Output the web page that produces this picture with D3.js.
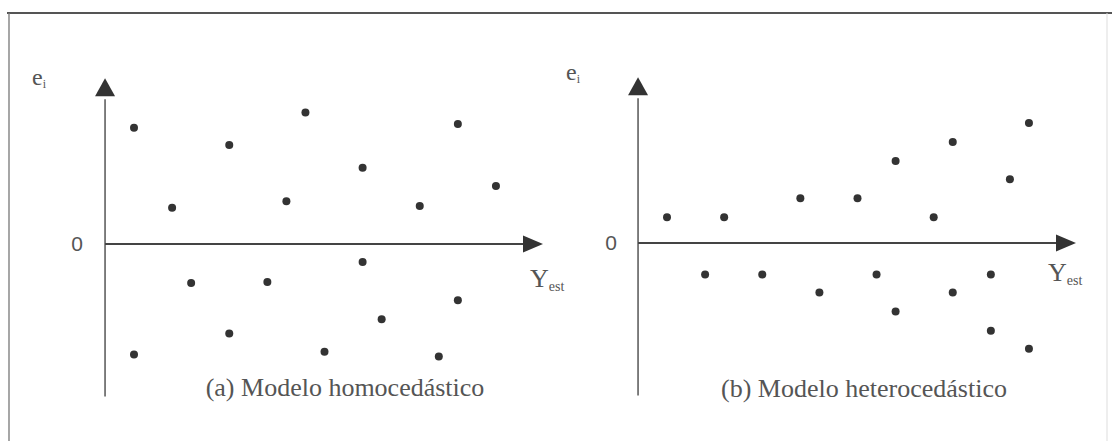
<!DOCTYPE html>
<html>
<head>
<meta charset="utf-8">
<script src="https://cdn.jsdelivr.net/npm/d3@7"></script>
<style>
  html, body { margin: 0; padding: 0; background: #fff; }
  svg { display: block; }
</style>
</head>
<body>
<svg id="chart" width="1112" height="441"></svg>
<script>
// Residuals e_i against fitted values (grid positions 0..19 along Y_est)
const homoX  = [0, 2, 5, 9, 8, 12, 15, 17, 19, 3, 7, 5, 0, 12, 13, 10, 16, 17];
const homoE  = [6.1, 1.9, 5.2, 6.9, 2.25, 4.0, 2.0, 6.3, 3.05, -2.05, -2.0, -4.7, -5.8, -0.95, -3.95, -5.65, -5.9, -2.95];
const heteroX = [0, 3, 7, 10, 12, 14, 15, 18, 19, 2, 5, 8, 11, 12, 15, 17, 17, 19];
const heteroE = [1.35, 1.35, 2.35, 2.35, 4.3, 1.35, 5.3, 3.35, 6.3, -1.65, -1.65, -2.6, -1.65, -3.6, -2.6, -1.65, -4.6, -5.55];
const captions = ["(a) Modelo homocedástico", "(b) Modelo heterocedástico"];
const yLabel = "e";
const yLabelSub = "i";
const xLabel = "Y";
const xLabelSub = "est";
const zeroLabel = "0";

const svg = d3.select("#chart");
const ink = "#333";
const unit = 19.05;

// outer frame
svg.append("line").attr("x1", 7).attr("x2", 1112).attr("y1", 13).attr("y2", 13)
  .attr("stroke", "#555").attr("stroke-width", 2);
svg.append("line").attr("x1", 9).attr("x2", 9).attr("y1", 13).attr("y2", 441)
  .attr("stroke", "#777").attr("stroke-width", 1.3);
svg.append("line").attr("x1", 1107).attr("x2", 1107).attr("y1", 13).attr("y2", 441)
  .attr("stroke", "#ddd").attr("stroke-width", 1);

const panels = [
  { xs: homoX, es: homoE, caption: captions[0], x0: 134, zero: 244, capX: 345, capY: 396,
    eX: 32, eY: 85, zX: 77, yLabX: 530, yLabY: 287 },
  { xs: heteroX, es: heteroE, caption: captions[1], x0: 667, zero: 243, capX: 864, capY: 397,
    eX: 566, eY: 80, zX: 611, yLabX: 1048, yLabY: 281 }
];

panels.forEach(p => {
  const x = d3.scaleLinear().domain([0, 19]).range([p.x0, p.x0 + 19 * unit]);
  const y = d3.scaleLinear().domain([-1, 1]).range([p.zero + unit, p.zero - unit]);
  const g = svg.append("g");

  const xo = x(-1.52);
  // vertical axis with arrowhead
  g.append("line").attr("x1", xo).attr("x2", xo).attr("y1", y(-8.0)).attr("y2", y(7.6))
    .attr("stroke", "#555").attr("stroke-width", 1.5);
  g.append("path")
    .attr("d", d3.line()([[xo, y(8.7)], [xo - 10, y(7.75)], [xo + 10, y(7.75)]]) + "Z")
    .attr("fill", ink);

  // horizontal axis with arrowhead
  const xEnd = x(21.47);
  g.append("line").attr("x1", xo).attr("x2", xEnd - 12).attr("y1", y(0)).attr("y2", y(0))
    .attr("stroke", "#444").attr("stroke-width", 2);
  g.append("path")
    .attr("d", d3.line()([[xEnd, y(0)], [xEnd - 20, y(0) - 8.5], [xEnd - 20, y(0) + 8.5]]) + "Z")
    .attr("fill", ink);

  // residual points
  g.selectAll("circle").data(p.xs.map((v, i) => [v, p.es[i]])).join("circle")
    .attr("cx", d => x(d[0])).attr("cy", d => y(d[1])).attr("r", 4)
    .attr("fill", ink);

  // labels
  const eL = g.append("text").attr("x", p.eX).attr("y", p.eY)
    .attr("font-family", "Liberation Serif, serif").attr("font-size", 24).attr("fill", "#555");
  eL.append("tspan").text(yLabel);
  eL.append("tspan").attr("font-size", 12).attr("dy", 3).text(yLabelSub);

  g.append("text").attr("x", p.zX).attr("y", y(0)).attr("dy", "0.35em")
    .attr("text-anchor", "middle")
    .attr("font-family", "Liberation Sans, Arial, sans-serif").attr("font-size", 21)
    .attr("fill", "#555").text(zeroLabel);

  const yL = g.append("text").attr("x", p.yLabX).attr("y", p.yLabY)
    .attr("font-family", "Liberation Serif, serif").attr("font-size", 26).attr("fill", "#555");
  yL.append("tspan").text(xLabel);
  yL.append("tspan").attr("font-size", 14).attr("dy", 4).text(xLabelSub);

  g.append("text").attr("x", p.capX).attr("y", p.capY).attr("text-anchor", "middle")
    .attr("font-family", "Liberation Serif, serif").attr("font-size", 26)
    .attr("fill", "#555").text(p.caption);
});
</script>
</body>
</html>
